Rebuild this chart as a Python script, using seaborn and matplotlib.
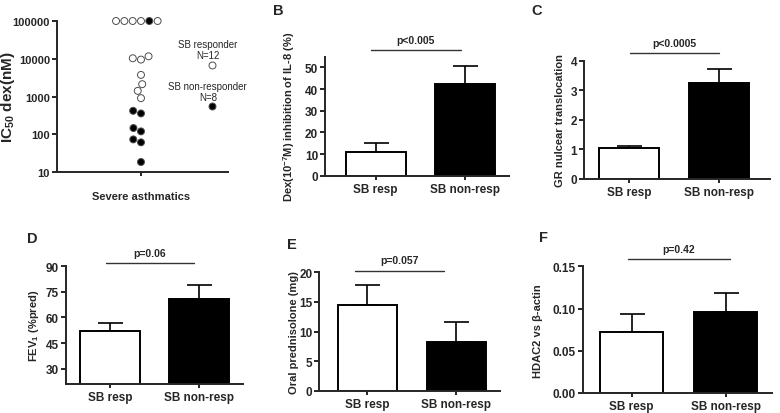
import numpy as np
import pandas as pd
import matplotlib
matplotlib.use("Agg")
import matplotlib.pyplot as plt
import seaborn as sns

# Panel A: IC50 of dex for each patient (nM)
ic50_resp = [100000, 100000, 100000, 100000, 100000, 10300, 9500, 11600, 3740, 2120, 1410, 904]
ic50_nonresp = [100000, 418, 356, 146, 119, 73, 61, 18.4]
legend_resp = ["SB responder\nN=12", 7010]
legend_nonresp = ["SB non-responder\nN=8", 555]

# Panels B-F: mean and SEM per group
groups = ["SB resp", "SB non-resp"]
il8_mean = [11.1, 42.5]
il8_sem = [4.0, 8.0]
gr_mean = [1.05, 3.24]
gr_sem = [0.06, 0.47]
fev_mean = [52.3, 70.8]
fev_sem = [4.4, 8.4]
pred_mean = [14.5, 8.3]
pred_sem = [3.4, 3.3]
hdac_mean = [0.0726, 0.0959]
hdac_sem = [0.0206, 0.0229]

sns.set_style("ticks")
plt.rcParams["font.family"] = ["Liberation Sans", "DejaVu Sans"]
plt.rcParams["font.weight"] = "bold"
plt.rcParams["axes.labelweight"] = "bold"
plt.rcParams["mathtext.default"] = "regular"

W, H = 780, 414
fig = plt.figure(figsize=(7.8, 4.14), dpi=100)


def rect(l, r, t, b):
    return [l / W, 1 - b / H, (r - l) / W, (b - t) / H]


def style_axes(ax):
    sns.despine(ax=ax)
    for s in ["left", "bottom"]:
        ax.spines[s].set_linewidth(1.4)
    ax.tick_params(width=1.4, length=3.5, direction="out", labelsize=8.5, pad=1.5)
    for t in ax.get_xticklabels() + ax.get_yticklabels():
        t.set_fontweight("bold")


# ---- Panel A ----
axA = fig.add_axes(rect(57, 228, 22, 173))
axA.set_yscale("log")
dfA = pd.DataFrame({
    "x": ["Severe asthmatics"] * (len(ic50_resp) + len(ic50_nonresp)),
    "ic50": ic50_resp + ic50_nonresp,
    "group": ["resp"] * len(ic50_resp) + ["nonresp"] * len(ic50_nonresp),
})
sns.swarmplot(data=dfA, x="x", y="ic50", hue="group",
              palette={"resp": "white", "nonresp": "black"},
              size=5, edgecolor="0.3", linewidth=0.7, legend=False,
              clip_on=False, ax=axA)
axA.set_ylim(10, 100000)
axA.set_xlim(-1, 1.036)
axA.set_yticks([10, 100, 1000, 10000, 100000])
axA.set_yticklabels(["10", "100", "1000", "10000", "100000"])
axA.yaxis.set_minor_locator(matplotlib.ticker.NullLocator())
axA.set_xlabel("")
axA.set_ylabel("IC$_{50}$ dex(nM)", fontsize=11)
axA.yaxis.set_label_coords(-0.235, 0.5)
style_axes(axA)
axA.tick_params(axis="y", labelsize=8)
axA.tick_params(axis="x", pad=11, labelsize=8, length=3)
for i, (lab, yv) in enumerate([legend_resp, legend_nonresp]):
    axA.scatter([0.845], [yv], s=25, facecolor=["white", "black"][i],
                edgecolor="0.3", linewidth=0.7, clip_on=False, zorder=3)
    axA.annotate(lab, xy=(0.845, yv), xytext=(-3, 3), textcoords="offset points",
                 ha="center", va="bottom", fontsize=7, fontweight="normal",
                 linespacing=1.15, annotation_clip=False)


# ---- Bar panels ----
def bar_panel(r, means, sems, ylim, yticks, ticklabels, ylabel, label_x, xlim,
              p_text, p_line, letter, letter_xy):
    ax = fig.add_axes(rect(*r))
    df = pd.DataFrame({"group": groups, "value": means})
    sns.barplot(data=df, x="group", y="value", hue="group",
                palette=["white", "black"], edgecolor="black", linewidth=1.4,
                width=0.67, errorbar=None, legend=False, ax=ax)
    ax.errorbar(x=[0, 1], y=means, yerr=[[0, 0], sems], fmt="none",
                ecolor="black", elinewidth=1.2, capsize=9, capthick=1.2, zorder=0)
    ax.set_ylim(*ylim)
    ax.set_xlim(*xlim)
    ax.set_yticks(yticks)
    ax.set_yticklabels(ticklabels)
    ax.set_xlabel("")
    ax.set_ylabel(ylabel, fontsize=8)
    ax.yaxis.set_label_coords(label_x, 0.5)
    style_axes(ax)
    ax.tick_params(axis="x", length=3, pad=2)
    x0, x1, yl = p_line
    ax.plot([x0, x1], [yl, yl], color="0.2", lw=1.0, clip_on=False)
    ax.annotate(p_text, xy=((x0 + x1) / 2, yl), xytext=(0, 7.5),
                textcoords="offset points", ha="center", va="center",
                fontsize=7.5, fontweight="bold", annotation_clip=False)
    fig.text(letter_xy[0] / W, 1 - letter_xy[1] / H, letter, fontsize=10.5,
             fontweight="bold", ha="center", va="center")
    return ax


bar_panel((325, 509, 57.5, 176.7), il8_mean, il8_sem, (0, 55),
          [0, 10, 20, 30, 40, 50], ["0", "10", "20", "30", "40", "50"],
          "Dex(10$^{-7}$M) inhibition of IL-8 (%)", -0.15, (-0.564, 1.49),
          "p<0.005", (-0.05, 0.95, 58.0), "B", (278, 11))

bar_panel((584, 770, 61.7, 180), gr_mean, gr_sem, (0, 4),
          [0, 1, 2, 3, 4], ["0", "1", "2", "3", "4"],
          "GR nulcear translocation", -0.1, (-0.503, 1.575),
          "p<0.0005", (0.01, 1.01, 4.25), "C", (537, 11))

bar_panel((65.7, 243, 267.3, 385), fev_mean, fev_sem, (21, 90),
          [30, 45, 60, 75, 90], ["30", "45", "60", "75", "90"],
          "FEV$_1$ (%pred)", -0.14, (-0.497, 1.49),
          "p=0.06", (-0.045, 0.94, 91.75), "D", (32, 239))

bar_panel((319.3, 500, 273.3, 391.7), pred_mean, pred_sem, (0, 20),
          [0, 5, 10, 15, 20], ["0", "5", "10", "15", "20"],
          "Oral prednisolone (mg)", -0.115, (-0.542, 1.49),
          "p=0.057", (-0.14, 0.86, 20.27), "E", (292, 245))

bar_panel((582.7, 772, 267.3, 394), hdac_mean, hdac_sem, (0, 0.15),
          [0, 0.05, 0.10, 0.15], ["0.00", "0.05", "0.10", "0.15"],
          "HDAC2 vs β-actin", -0.21, (-0.52, 1.49),
          "p=0.42", (-0.04, 1.04, 0.1586), "F", (543, 238))

fig.savefig("out.png", dpi=100)
